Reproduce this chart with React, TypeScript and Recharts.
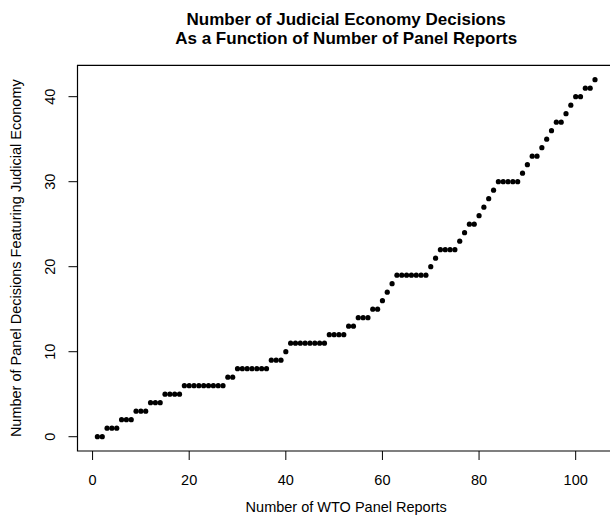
import { ScatterChart, Scatter, XAxis, YAxis, ReferenceArea } from "recharts";

// Cumulative count of panel decisions featuring judicial economy,
// one entry per WTO panel report in order (report 1, 2, 3, ...).
const decisions = [
  0, 0, 1, 1, 1, 2, 2, 2, 3, 3,
  3, 4, 4, 4, 5, 5, 5, 5, 6, 6,
  6, 6, 6, 6, 6, 6, 6, 7, 7, 8,
  8, 8, 8, 8, 8, 8, 9, 9, 9, 10,
  11, 11, 11, 11, 11, 11, 11, 11, 12, 12,
  12, 12, 13, 13, 14, 14, 14, 15, 15, 16,
  17, 18, 19, 19, 19, 19, 19, 19, 19, 20,
  21, 22, 22, 22, 22, 23, 24, 25, 25, 26,
  27, 28, 29, 30, 30, 30, 30, 30, 31, 32,
  33, 33, 34, 35, 36, 37, 37, 38, 39, 40,
  40, 41, 41, 42,
];

const xTicks = [0, 20, 40, 60, 80, 100];
const yTicks = [0, 10, 20, 30, 40];

const TITLE_1 = "Number of Judicial Economy Decisions";
const TITLE_2 = "As a Function of Number of Panel Reports";
const X_LABEL = "Number of WTO Panel Reports";
const Y_LABEL = "Number of Panel Decisions Featuring Judicial Economy";

const FONT = "'Liberation Sans', Arial, Helvetica, sans-serif";

// R-style plot region (axes padded 4% past the data range);
// the right edge of the box falls just past the visible frame
const X_DOMAIN: [number, number] = [-3.12, 108.12];
const Y_DOMAIN: [number, number] = [-1.68, 43.68];

const data = decisions.map((d, i) => ({ x: i + 1, y: d }));

// eslint-disable-next-line @typescript-eslint/no-explicit-any
function XTick(props: any) {
  const { x, y, payload } = props;
  return (
    <text x={x} y={y} dy={25} textAnchor="middle" fontSize={14.5} fontFamily={FONT} fill="#000">
      {payload.value}
    </text>
  );
}

// eslint-disable-next-line @typescript-eslint/no-explicit-any
function YTick(props: any) {
  const { x, y, payload } = props;
  const bx = x - 13.5;
  return (
    <text
      x={bx}
      y={y}
      transform={`rotate(-90 ${bx} ${y})`}
      textAnchor="middle"
      fontSize={14.5}
      fontFamily={FONT}
      fill="#000"
    >
      {payload.value}
    </text>
  );
}

// eslint-disable-next-line @typescript-eslint/no-explicit-any
function Dot(props: any) {
  const { cx, cy } = props;
  return <circle cx={cx} cy={cy} r={2.6} fill="#000" />;
}

export default function App() {
  return (
    <div
      style={{
        position: "absolute",
        left: 0,
        top: 0,
        width: 610,
        height: 520,
        overflow: "hidden",
        background: "#fff",
      }}
    >
      <ScatterChart
        width={660}
        height={520}
        margin={{ top: 65.4, right: 45.1, bottom: 9, left: 0 }}
      >
        <XAxis
          type="number"
          dataKey="x"
          domain={X_DOMAIN}
          ticks={xTicks}
          interval={0}
          allowDataOverflow
          axisLine={false}
          tickSize={9}
          tickMargin={0}
          tickLine={{ stroke: "#000", strokeWidth: 1 }}
          tick={XTick}
          height={60}
        />
        <YAxis
          type="number"
          dataKey="y"
          domain={Y_DOMAIN}
          ticks={yTicks}
          interval={0}
          allowDataOverflow
          axisLine={false}
          tickSize={9}
          tickMargin={0}
          tickLine={{ stroke: "#000", strokeWidth: 1 }}
          tick={YTick}
          width={77.5}
        />
        <ReferenceArea
          x1={X_DOMAIN[0]}
          x2={X_DOMAIN[1]}
          y1={Y_DOMAIN[0]}
          y2={Y_DOMAIN[1]}
          fill="none"
          fillOpacity={0}
          stroke="#000"
          strokeWidth={1.2}
          ifOverflow="visible"
        />
        <Scatter data={data} shape={Dot} isAnimationActive={false} />

        <text x={346.2} y={25} textAnchor="middle" fontSize={17} fontWeight="bold" fontFamily={FONT} fill="#000">
          {TITLE_1}
        </text>
        <text x={346.2} y={44.3} textAnchor="middle" fontSize={17} fontWeight="bold" fontFamily={FONT} fill="#000">
          {TITLE_2}
        </text>
        <text x={346.2} y={512} textAnchor="middle" fontSize={14.5} fontFamily={FONT} fill="#000">
          {X_LABEL}
        </text>
        <text
          transform="translate(21 258.2) rotate(-90)"
          textAnchor="middle"
          fontSize={14.5}
          fontFamily={FONT}
          fill="#000"
        >
          {Y_LABEL}
        </text>
      </ScatterChart>
    </div>
  );
}
